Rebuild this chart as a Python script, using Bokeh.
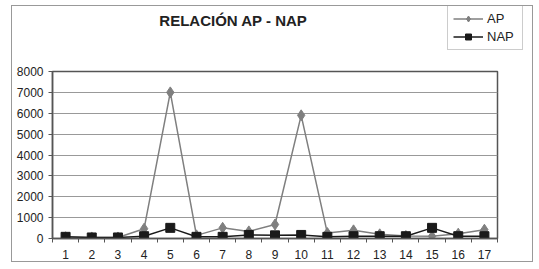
from bokeh.plotting import figure
from bokeh.layouts import column
from bokeh.models import FixedTicker, Legend, LegendItem, Label, Range1d
from bokeh.embed import file_html
from bokeh.resources import INLINE

x = list(range(1, 18))
ap = [60, 50, 50, 470, 7000, 150, 510, 340, 670, 5900, 260, 390, 200, 120, 110, 230, 420]
nap = [80, 50, 50, 110, 510, 80, 80, 170, 150, 170, 80, 110, 110, 110, 510, 110, 110]
y_ticks = [0, 1000, 2000, 3000, 4000, 5000, 6000, 7000, 8000]
title_text = "RELACIÓN AP - NAP"
series_names = ["AP", "NAP"]

FONT = "Liberation Sans"
AP_COLOR = "#7f7f7f"
NAP_COLOR = "#1a1a1a"

# ---- main chart ----
p = figure(width=520, height=199, output_backend="svg", toolbar_location=None,
           x_range=Range1d(0.5, 17.5), y_range=Range1d(0, 8000),
           min_border_left=40, min_border_right=35, min_border_top=9, min_border_bottom=21)
p.outline_line_color = "#555"
p.outline_line_width = 1.5
p.xgrid.grid_line_color = None
p.ygrid.grid_line_color = "#999"
p.ygrid.grid_line_width = 1
p.yaxis.ticker = FixedTicker(ticks=y_ticks)
p.xaxis.ticker = FixedTicker(ticks=x, minor_ticks=[i + 0.5 for i in range(0, 18)])
p.xaxis.major_tick_line_color = None
p.xaxis.minor_tick_in = 0
p.xaxis.minor_tick_out = 4
p.xaxis.minor_tick_line_color = "#555"
p.yaxis.minor_tick_line_color = None
p.yaxis.major_tick_in = 0
p.yaxis.major_tick_out = 4
p.yaxis.major_tick_line_color = "#555"
for ax in (p.xaxis, p.yaxis):
    ax.axis_line_color = "#555"
    ax.axis_line_width = 1.5
    ax.major_label_text_font = FONT
    ax.major_label_text_font_size = "12px"
    ax.major_label_text_color = "#222"
p.yaxis.major_label_standoff = 5
p.xaxis.major_label_standoff = 5

p.line(x, ap, line_color=AP_COLOR, line_width=1.5)
p.scatter(x, ap, marker="diamond", size=11, fill_color=AP_COLOR, line_color=AP_COLOR)
p.line(x, nap, line_color=NAP_COLOR, line_width=1.5)
p.scatter(x, nap, marker="square", size=9, fill_color=NAP_COLOR, line_color=NAP_COLOR)

# ---- header with title and legend ----
h = figure(width=520, height=56, output_backend="svg", toolbar_location=None,
           x_range=Range1d(100, 101), y_range=Range1d(0, 1),
           x_axis_type=None, y_axis_type=None,
           min_border_left=0, min_border_right=0, min_border_top=0, min_border_bottom=0)
h.frame_align = False
p.frame_align = False
h.outline_line_color = None
h.grid.grid_line_color = None
hl1 = h.line(x, ap, line_color=AP_COLOR, line_width=1.5)
hs1 = h.scatter(x, ap, marker="diamond", size=11, fill_color=AP_COLOR, line_color=AP_COLOR)
hl2 = h.line(x, nap, line_color=NAP_COLOR, line_width=1.5)
hs2 = h.scatter(x, nap, marker="square", size=9, fill_color=NAP_COLOR, line_color=NAP_COLOR)

legend = Legend(items=[LegendItem(label=series_names[0], renderers=[hl1, hs1]),
                       LegendItem(label=series_names[1], renderers=[hl2, hs2])],
                location=(435, 12), border_line_color="#999", border_line_width=1,
                label_text_font=FONT, label_text_font_size="13px", label_text_color="#222",
                glyph_width=30, glyph_height=15, label_width=30, label_height=15,
                spacing=3, padding=5, margin=0,
                label_standoff=4, background_fill_alpha=1)
h.add_layout(legend, "center")
h.add_layout(Label(x=221, y=42, x_units="screen", y_units="screen", text=title_text,
                   text_font=FONT, text_font_style="bold", text_font_size="15px",
                   text_align="center", text_baseline="middle", text_color="#222"))

layout = column(h, p, margin=(6, 0, 0, 12), spacing=0,
                styles={"outline": "1px solid #999", "outline-offset": "0px"})

open("out.html", "w").write(file_html(layout, INLINE))
